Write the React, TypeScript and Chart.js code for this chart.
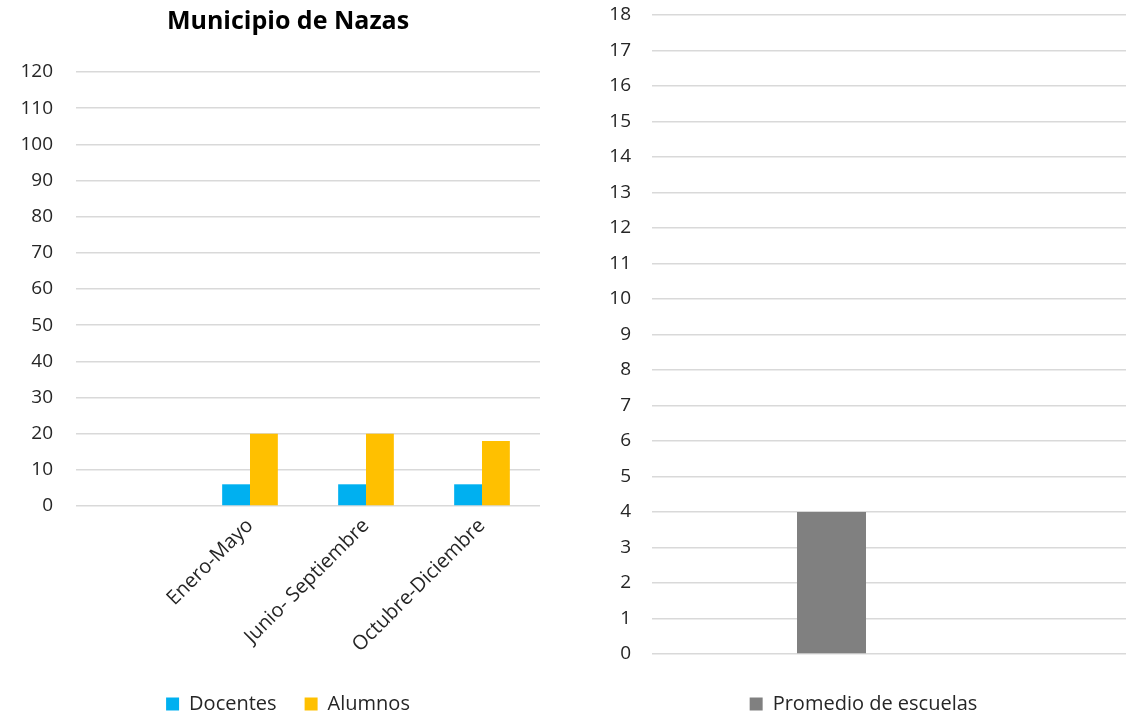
import React, { useEffect, useRef } from 'react';
import { Chart, registerables } from 'chart.js';

Chart.register(...registerables);

// ---- Data ----
const periodLabels = ['', 'Enero-Mayo', 'Junio- Septiembre', 'Octubre-Diciembre'];
const docentesValues = [null, 6, 6, 6];
const alumnosValues = [null, 20, 20, 18];
const leftYMin = 0;
const leftYMax = 120;
const leftYStep = 10;

const schoolLabels = [''];
const promedioEscuelasValues = [4];
const emptySeries2 = [null];
const emptySeries3 = [null];
const rightYMin = 0;
const rightYMax = 18;
const rightYStep = 1;

const FONT = "'Open Sans', 'Noto Sans', sans-serif";
const TEXT = '#262626';
const GRID = '#d9d9d9';
const CANVAS_H = 724;

export default function App() {
  const leftRef = useRef<HTMLCanvasElement | null>(null);
  const rightRef = useRef<HTMLCanvasElement | null>(null);

  useEffect(() => {
    const left = new Chart(leftRef.current as HTMLCanvasElement, {
      type: 'bar',
      data: {
        labels: periodLabels,
        datasets: [
          {
            label: 'Docentes',
            data: docentesValues as any,
            backgroundColor: '#00b0f0',
            categoryPercentage: 0.48,
            barPercentage: 1,
          },
          {
            label: 'Alumnos',
            data: alumnosValues as any,
            backgroundColor: '#ffc000',
            categoryPercentage: 0.48,
            barPercentage: 1,
          },
        ],
      },
      options: {
        animation: false,
        responsive: false,
        maintainAspectRatio: false,
        layout: { padding: { left: 0, right: 0, top: 0, bottom: 0 } },
        plugins: {
          title: {
            display: true,
            text: 'Municipio de Nazas',
            color: '#000',
            font: { family: FONT, size: 25, weight: 'bold' },
            padding: { top: 7, bottom: 35 },
          },
          legend: {
            position: 'bottom',
            labels: {
              boxWidth: 13,
              boxHeight: 13,
              padding: 28,
              color: TEXT,
              font: { family: FONT, size: 20 },
            },
          },
          tooltip: { enabled: false },
        },
        scales: {
          x: {
            grid: { display: false, drawTicks: false },
            border: { display: false },
            ticks: {
              color: TEXT,
              font: { family: FONT, size: 20 },
              minRotation: 45,
              maxRotation: 45,
              autoSkip: false,
              padding: 8,
            },
            afterFit: (s: any) => {
              s.height = 160;
            },
          },
          y: {
            min: leftYMin,
            max: leftYMax,
            ticks: {
              stepSize: leftYStep,
              color: TEXT,
              font: { family: FONT, size: 19 },
              padding: 23,
            },
            grid: { color: GRID, lineWidth: 1.5, drawTicks: false },
            border: { display: false },
            afterFit: (s: any) => {
              s.width = 76;
            },
          },
          yRightSpace: {
            position: 'right',
            display: true,
            ticks: { display: false },
            grid: { display: false, drawTicks: false },
            border: { display: false },
            afterFit: (s: any) => {
              s.width = 36;
            },
          },
        },
      },
    });

    const right = new Chart(rightRef.current as HTMLCanvasElement, {
      type: 'bar',
      data: {
        labels: schoolLabels,
        datasets: [
          {
            label: 'Promedio de escuelas',
            data: promedioEscuelasValues,
            backgroundColor: '#808080',
            categoryPercentage: 0.4165,
            barPercentage: 1,
          },
          {
            label: 'Serie 2',
            data: emptySeries2 as any,
            backgroundColor: '#a5a5a5',
            categoryPercentage: 0.4165,
            barPercentage: 1,
          },
          {
            label: 'Serie 3',
            data: emptySeries3 as any,
            backgroundColor: '#5b9bd5',
            categoryPercentage: 0.4165,
            barPercentage: 1,
          },
        ],
      },
      options: {
        animation: false,
        responsive: false,
        maintainAspectRatio: false,
        layout: { padding: { left: 0, right: 0, top: 15, bottom: 0 } },
        plugins: {
          legend: {
            position: 'bottom',
            labels: {
              boxWidth: 13,
              boxHeight: 13,
              padding: 28,
              color: TEXT,
              font: { family: FONT, size: 20 },
              filter: (item: any) => item.datasetIndex === 0,
            },
          },
          tooltip: { enabled: false },
        },
        scales: {
          x: {
            grid: { display: false, drawTicks: false },
            border: { display: false },
            ticks: { display: false },
            afterFit: (s: any) => {
              s.height = 12;
            },
          },
          y: {
            min: rightYMin,
            max: rightYMax,
            ticks: {
              stepSize: rightYStep,
              color: TEXT,
              font: { family: FONT, size: 19 },
              padding: 0,
            },
            grid: {
              color: GRID,
              lineWidth: 1.5,
              drawTicks: true,
              tickLength: 21,
              tickColor: 'rgba(0,0,0,0)',
            },
            border: { display: false },
            afterFit: (s: any) => {
              s.width = 74;
            },
          },
        },
      },
    });

    return () => {
      left.destroy();
      right.destroy();
    };
  }, []);

  return (
    <div
      style={{
        position: 'fixed',
        left: 0,
        top: 0,
        width: 1126,
        height: 715,
        overflow: 'hidden',
        background: '#fff',
      }}
    >
      <canvas
        ref={leftRef}
        width={576}
        height={CANVAS_H}
        style={{ position: 'absolute', left: 0, top: 0, width: 576, height: CANVAS_H }}
      />
      <canvas
        ref={rightRef}
        width={571}
        height={CANVAS_H}
        style={{ position: 'absolute', left: 578, top: 0, width: 571, height: CANVAS_H }}
      />
    </div>
  );
}
